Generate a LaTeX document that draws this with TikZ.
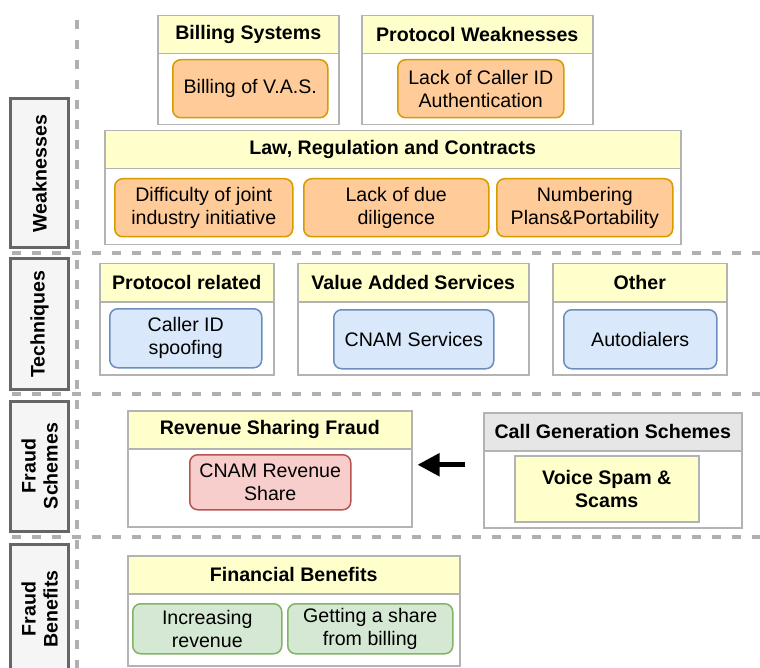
\documentclass[tikz,border=0pt]{standalone}
\usepackage{fontspec}
\setmainfont{Liberation Sans}
\usetikzlibrary{arrows.meta}
\definecolor{hyellow}{HTML}{FFFFCC}
\definecolor{cgray}{HTML}{B3B3B3}
\definecolor{dashgray}{HTML}{B0B0B0}
\definecolor{ofill}{HTML}{FFCC99}
\definecolor{oborder}{HTML}{D79B00}
\definecolor{bfill}{HTML}{DAE8FC}
\definecolor{bborder}{HTML}{6C8EBF}
\definecolor{rfill}{HTML}{F8CECC}
\definecolor{rborder}{HTML}{B85450}
\definecolor{gfill}{HTML}{D5E8D4}
\definecolor{gborder}{HTML}{82B366}
\definecolor{hgray}{HTML}{E6E6E6}
\definecolor{lblfill}{HTML}{F5F5F5}
\definecolor{lblborder}{HTML}{666666}
\tikzset{
  base/.style={font=\fontsize{19.6}{23.3}\selectfont, align=center, inner sep=0pt, anchor=north west},
  cont/.style={base, draw=cgray, line width=1.5pt, fill=white},
  head/.style={base, draw=cgray, line width=1.5pt, fill=hyellow, font=\fontsize{19.6}{23.3}\selectfont\bfseries},
  ghead/.style={head, fill=hgray},
  obox/.style={base, rounded corners=8pt, draw=oborder, fill=ofill, line width=1.5pt},
  bbox/.style={base, rounded corners=8pt, draw=bborder, fill=bfill, line width=1.5pt},
  rbox/.style={base, rounded corners=8pt, draw=rborder, fill=rfill, line width=1.5pt},
  gbox/.style={base, rounded corners=8pt, draw=gborder, fill=gfill, line width=1.5pt},
  ybox/.style={base, draw=cgray, fill=hyellow, line width=1.5pt, font=\fontsize{19.6}{23.3}\selectfont\bfseries},
  lbl/.style={rotate=90, draw=lblborder, fill=lblfill, line width=3pt, inner sep=0pt, align=center,
    font=\fontsize{19.6}{22}\selectfont\bfseries, minimum height=58pt},
  sep/.style={draw=dashgray, line width=3.5pt, dash pattern=on 9pt off 11pt},
  bigarr/.style={line width=5pt, -{Triangle[length=22pt,width=22pt]}}
}
\begin{document}
\begin{tikzpicture}[x=1pt,y=-1pt]
\useasboundingbox (0,0) rectangle (760,668);
% separators
\coordinate (v1) at (77,20);
\coordinate (v2) at (77,668);
\draw[sep] (v1) -- (v2);
\coordinate (h1a) at (12,253); \coordinate (h1b) at (760,253);
\coordinate (h2a) at (12,394); \coordinate (h2b) at (760,394);
\coordinate (h3a) at (12,537); \coordinate (h3b) at (760,537);
\draw[sep] (h1a) -- (h1b);
\draw[sep] (h2a) -- (h2b);
\draw[sep] (h3a) -- (h3b);
% left labels
\node[lbl, minimum width=149pt] (lw) at (39.5,173.5) {Weaknesses};
\node[lbl, minimum width=130pt] (lt) at (39.5,324) {Techniques};
\node[lbl, minimum width=130pt] (ls) at (39.5,466) {Fraud\\Schemes};
\node[lbl, minimum width=130pt] (lb) at (39.5,609) {Fraud\\Benefits};
% Weaknesses
\node[cont, minimum width=181pt, minimum height=109pt] (bs) at (157,15) {};
\node[head, minimum width=181pt, minimum height=38pt] (bsh) at (157,15) {Billing Systems};
\node[obox, minimum width=155pt, minimum height=58pt] (vas1) at (172,59) {Billing of V.A.S.};
\node[cont, minimum width=231pt, minimum height=109pt] (pw) at (361,15) {};
\node[head, minimum width=231pt, minimum height=38pt] (pwh) at (361,15) {Protocol Weaknesses};
\node[obox, minimum width=166pt, minimum height=58pt] (lcid) at (397,59) {Lack of Caller ID\\Authentication};
\node[cont, minimum width=576pt, minimum height=114pt] (law) at (104,130) {};
\node[head, minimum width=576pt, minimum height=38pt] (lawh) at (104,130) {Law, Regulation and Contracts};
\node[obox, minimum width=178pt, minimum height=58pt] (dif) at (114,178) {Difficulty of joint\\industry initiative};
\node[obox, minimum width=185pt, minimum height=58pt] (ldd) at (303,178) {Lack of due\\diligence};
\node[obox, minimum width=176pt, minimum height=58pt] (num) at (496,178) {Numbering\\Plans\&Portability};
% Techniques
\node[cont, minimum width=174pt, minimum height=111pt] (pr) at (99,263) {};
\node[head, minimum width=174pt, minimum height=38pt] (prh) at (99,263) {Protocol related};
\node[bbox, minimum width=152pt, minimum height=59pt] (cid) at (109,308) {Caller ID\\spoofing};
\node[cont, minimum width=231pt, minimum height=111pt] (vas) at (297,263) {};
\node[head, minimum width=231pt, minimum height=38pt] (vash) at (297,263) {Value Added Services};
\node[bbox, minimum width=160pt, minimum height=59pt] (cnam) at (333,309) {CNAM Services};
\node[cont, minimum width=174pt, minimum height=111pt] (oth) at (552,263) {};
\node[head, minimum width=174pt, minimum height=38pt] (othh) at (552,263) {Other};
\node[bbox, minimum width=153pt, minimum height=59pt] (auto) at (563,309) {Autodialers};
% Fraud schemes
\node[cont, minimum width=284pt, minimum height=116pt] (rsf) at (127,410) {};
\node[head, minimum width=284pt, minimum height=38pt] (rsfh) at (127,410) {Revenue Sharing Fraud};
\node[rbox, minimum width=161pt, minimum height=55pt] (cnamrs) at (189,454) {CNAM Revenue\\Share};
\node[cont, minimum width=258pt, minimum height=115pt] (cgs) at (483,412) {};
\node[ghead, minimum width=258pt, minimum height=38pt] (cgsh) at (483,412) {Call Generation Schemes};
\node[ybox, minimum width=184pt, minimum height=66pt] (vss) at (514,455) {Voice Spam \&\\Scams};
\draw[bigarr, shorten <=18pt, shorten >=5pt] ([yshift=5.5pt]cgs.west) -- ([yshift=5.5pt]cgs.west -| rsf.east);
% Fraud benefits
\node[cont, minimum width=332pt, minimum height=110pt] (fb) at (127,555) {};
\node[head, minimum width=332pt, minimum height=38pt] (fbh) at (127,555) {Financial Benefits};
\node[gbox, minimum width=149pt, minimum height=50pt] (inc) at (132,603) {Increasing\\revenue};
\node[gbox, minimum width=165pt, minimum height=50pt] (gas) at (287,603) {Getting a share\\from billing};
\end{tikzpicture}
\end{document}
